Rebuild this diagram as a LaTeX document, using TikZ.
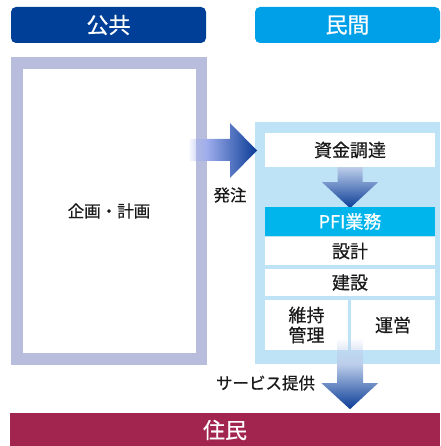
\documentclass[tikz,border=0pt]{standalone}
\usepackage{fontspec}
\setmainfont{Noto Sans CJK JP}[FakeBold=0.6]
\usetikzlibrary{fadings,calc}
\definecolor{pubblue}{HTML}{003F98}
\definecolor{privblue}{HTML}{00A0E9}
\definecolor{framecol}{HTML}{B8BCDD}
\definecolor{panelcol}{HTML}{BEE3F7}
\definecolor{pficol}{HTML}{00B5EB}
\definecolor{rescol}{HTML}{A2254F}
\definecolor{arrlight}{HTML}{BCCDEA}
\definecolor{arrdark}{HTML}{0A3C96}
\definecolor{txt}{HTML}{1A1A1A}
\tikzfading[name=fadeeastin, left color=transparent!100, right color=transparent!0]
\tikzfading[name=fadesouthin, top color=transparent!100, bottom color=transparent!0]
\tikzset{
  body/.style={inner sep=0pt, text=txt, font=\fontsize{16.5}{20}\selectfont},
  hdr/.style={rounded corners=5pt, inner sep=0pt, text=white, minimum height=36pt,
    font=\fontsize{22}{24}\selectfont},
  whitebox/.style={body, fill=white, minimum width=170pt, font=\fontsize{18}{21}\selectfont},
}
\begin{document}
\begin{tikzpicture}[x=1pt,y=-1pt]
\useasboundingbox (0,0) rectangle (440,446);
% headers
\node[hdr, fill=pubblue, minimum width=195pt] (pub) at (108.5,25) {公共};
\node[hdr, fill=privblue, minimum width=185pt] (priv) at (347.5,25) {民間};
% public frame
\node[body, draw=framecol, line width=11.5pt, minimum width=184.5pt, minimum height=296pt] (plan) at (109,211) {企画・計画};
% private panel
\node[fill=panelcol, minimum width=185pt, minimum height=242pt, inner sep=0pt] (panel) at (347.5,243) {};
\node[whitebox, minimum height=34pt] (fund) at (350,150) {資金調達};
% down arrow 1
\shade[top color=arrlight, bottom color=arrdark]
  ($(fund.south)+(-12.5,0)$) -- ($(fund.south)+(12.5,0)$) -- ($(fund.south)+(12.5,15)$)
  -- ($(fund.south)+(28,15)$) -- ($(fund.south)+(0,41)$) -- ($(fund.south)+(-28,15)$)
  -- ($(fund.south)+(-12.5,15)$) -- cycle;
\node[whitebox, fill=pficol, text=white, minimum height=29pt] (pfi) at (350,221.5) {PFI業務};
\node[whitebox, minimum height=28pt] (design) at (350,251) {設計};
\node[whitebox, minimum height=27pt] (build) at (350,282.5) {建設};
\node[whitebox, minimum width=83pt, minimum height=50pt, align=center] (maint) at (306.5,325) {維持\\[-1pt]管理};
\node[whitebox, minimum width=84pt, minimum height=50pt] (oper) at (393,325) {運営};
% right arrow (order)
\fill[arrlight!85!blue, path fading=fadeeastin] (188,139) rectangle (207,161);
\shade[left color=arrlight!85!blue, right color=arrdark]
  (206,139) -- (230,139) -- (230,123) -- (257,150.5) -- (230,178) -- (230,161) -- (206,161) -- cycle;
\node[body] (order) at (230,195) {発注};
% down arrow 2
\fill[arrlight, path fading=fadesouthin] ($(panel.south)+(-10.5,-26)$) rectangle ($(panel.south)+(15.5,1)$);
\shade[top color=arrlight, bottom color=arrdark]
  ($(panel.south)+(-10.5,0)$) -- ($(panel.south)+(15.5,0)$) -- ($(panel.south)+(15.5,19)$)
  -- ($(panel.south)+(30.5,19)$) -- ($(panel.south)+(2.5,45)$) -- ($(panel.south)+(-26,19)$)
  -- ($(panel.south)+(-10.5,19)$) -- cycle;
\node[body] (service) at (265.5,383) {サービス提供};
% residents
\node[fill=rescol, text=white, inner sep=0pt, minimum width=430pt, minimum height=34pt,
  font=\fontsize{22}{24}\selectfont] (res) at (225,430) {住民};
\end{tikzpicture}
\end{document}
